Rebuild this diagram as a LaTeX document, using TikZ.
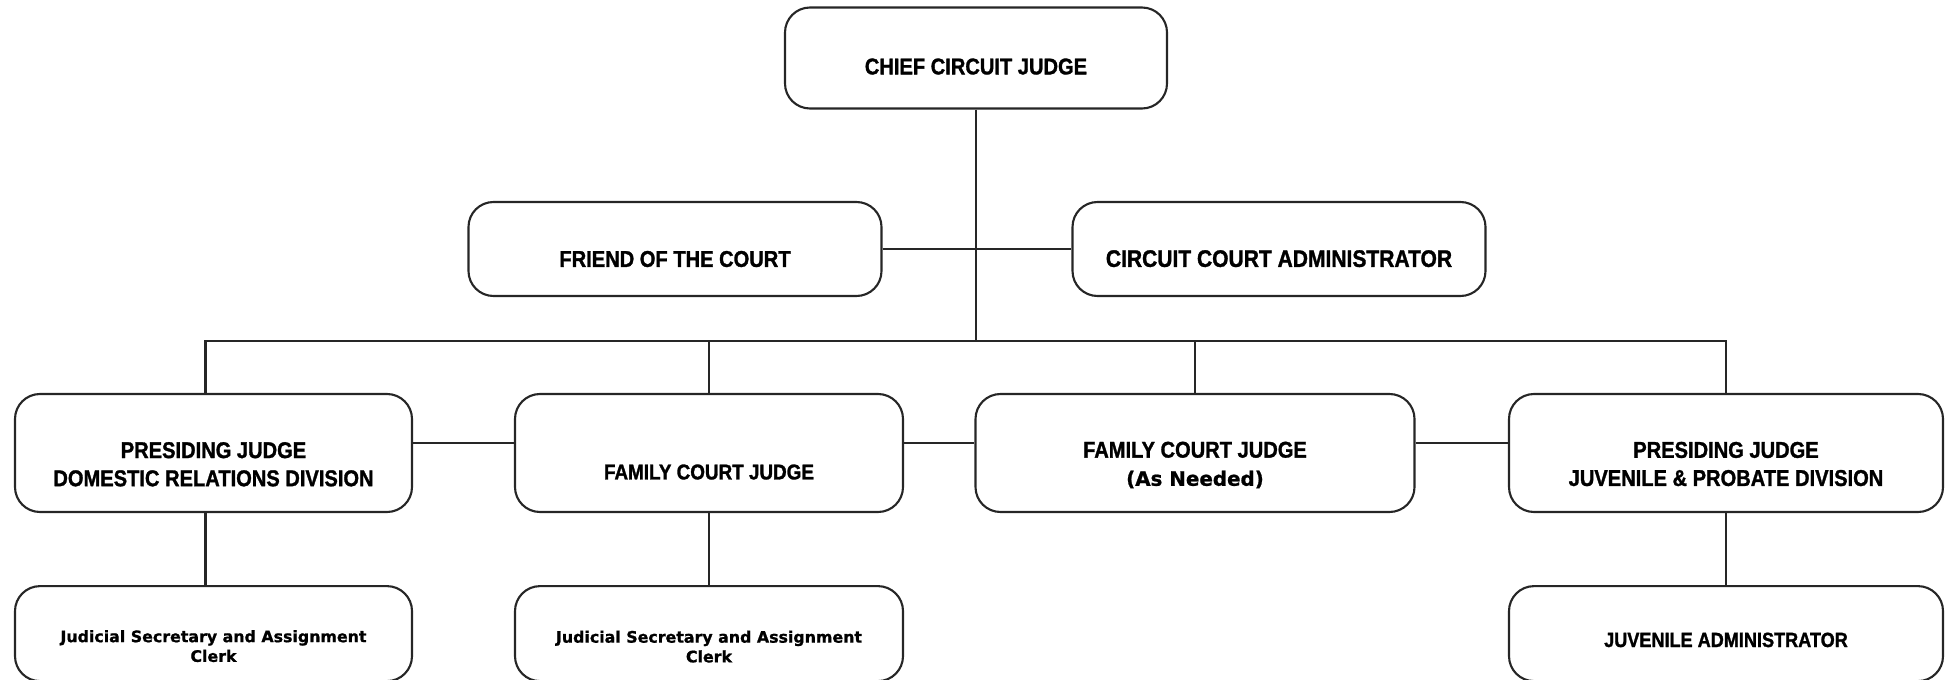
\documentclass[tikz,border=0pt]{standalone}
\usepackage{fontspec}
\setmainfont{Liberation Sans}[FakeStretch=0.88, BoldFeatures={FakeBold=1.3}]
\newfontfamily\widefont{DejaVu Sans}[BoldFeatures={FakeBold=1}]
\usetikzlibrary{positioning}

\begin{document}
\begin{tikzpicture}[
    node distance=1.44cm,
    box/.style={draw=black!85, line width=1.2pt, rounded corners=0.5cm, align=center,
      inner sep=2pt, font=\bfseries\fontsize{13}{16}\selectfont},
    judgebox/.style={box, minimum height=2.36cm},
    clerkbox/.style={box, minimum height=1.9cm},
    clerkfont/.style={font=\widefont\bfseries\fontsize{9}{11.2}\selectfont},
    link/.style={draw=black!85, line width=1.2pt}
]
\useasboundingbox (0,0) rectangle (38.94,-13.6);

% Top of the court
\node[box, minimum width=7.64cm, minimum height=2.02cm] (CCJ) at (19.52,-1.16)
  {\rule{0pt}{0.66cm}CHIEF CIRCUIT JUDGE};
\node[box, minimum width=8.26cm, minimum height=1.88cm] (FOC) at (13.50,-4.98)
  {\rule{0pt}{0.72cm}FRIEND OF THE COURT};
\node[box, minimum width=8.26cm, minimum height=1.88cm, font=\bfseries\fontsize{13.6}{16}\selectfont] (CCA) at (25.58,-4.98)
  {\rule{0pt}{0.72cm}CIRCUIT COURT ADMINISTRATOR};
\coordinate (bus) at (19.54,-6.82);

% Judges
\node[judgebox, minimum width=7.94cm] (PJDR) at (4.27,-9.06)
  {\rule{0pt}{0.77cm}PRESIDING JUDGE\\DOMESTIC RELATIONS DIVISION};
\node[judgebox, minimum width=7.76cm, font=\bfseries\fontsize{12.2}{15}\selectfont] (FCJ) at (14.18,-9.06)
  {\rule{0pt}{1.06cm}FAMILY COURT JUDGE};
\node[judgebox, minimum width=8.78cm] (FCJN) at (23.90,-9.06)
  {\rule{0pt}{0.8cm}FAMILY COURT JUDGE\\{\widefont\fontsize{11.3}{16}\selectfont(As Needed)}};
\node[judgebox, minimum width=8.68cm] (PJJP) at (34.52,-9.06)
  {\rule{0pt}{0.76cm}PRESIDING JUDGE\\JUVENILE \& PROBATE DIVISION};

% Staff
\node[clerkbox, clerkfont, minimum width=7.94cm] (SecDR) [below=of PJDR]
  {\rule{0pt}{0.74cm}Judicial Secretary and Assignment\\Clerk};
\node[clerkbox, clerkfont, minimum width=7.76cm] (SecFC) [below=of FCJ]
  {\rule{0pt}{0.76cm}Judicial Secretary and Assignment\\Clerk};
\node[clerkbox, minimum width=8.68cm, font=\bfseries\fontsize{11.7}{14}\selectfont] (JuvAdm) [below=of PJJP]
  {\rule{0pt}{0.54cm}JUVENILE ADMINISTRATOR};

% Lines
\draw[link] (CCJ.south) -- (CCJ.south |- bus);
\draw[link] (FOC) -- (CCA);
\draw[link] ([xshift=-0.16cm]PJDR.north) |- (bus) -| (PJJP.north);
\draw[link] (FCJ.north) -- (FCJ.north |- bus);
\draw[link] (FCJN.north) -- (FCJN.north |- bus);
\draw[link] ([yshift=0.2cm]PJDR.east) -- ([yshift=0.2cm]FCJ.west);
\draw[link] ([yshift=0.2cm]FCJ.east) -- ([yshift=0.2cm]FCJN.west);
\draw[link] ([yshift=0.2cm]FCJN.east) -- ([yshift=0.2cm]PJJP.west);
\draw[link] ([xshift=-0.16cm]PJDR.south) -- ([xshift=-0.16cm]SecDR.north);
\draw[link] (FCJ) -- (SecFC);
\draw[link] (PJJP) -- (JuvAdm);

\end{tikzpicture}
\end{document}
